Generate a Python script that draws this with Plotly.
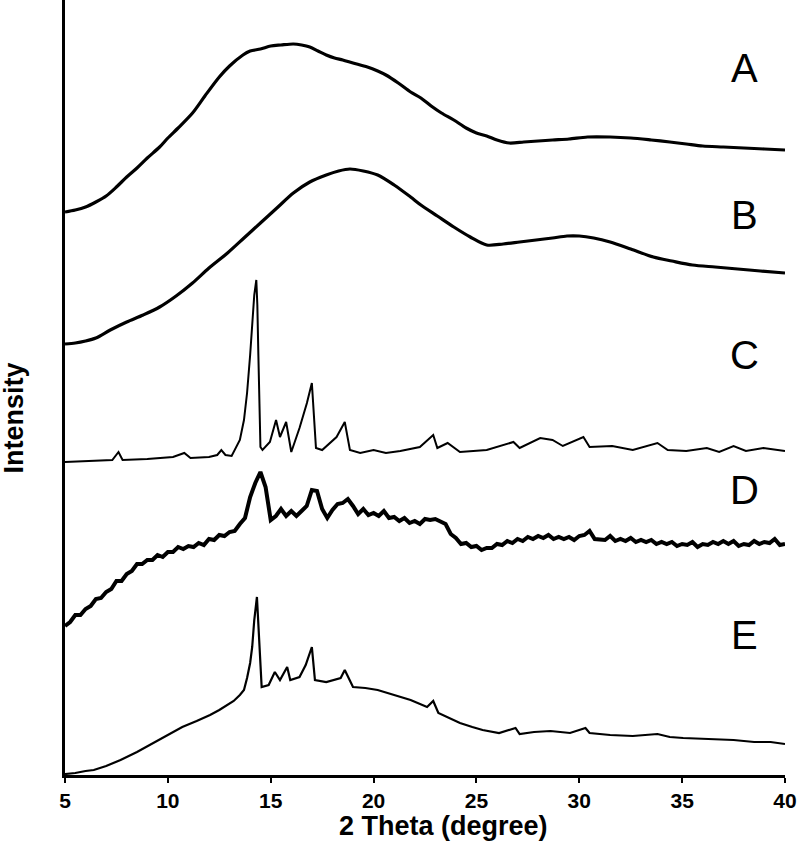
import plotly.graph_objects as go

# 2 theta (degree) and intensity (a.u., curves already stacked)
theta_a = [5.0, 5.5, 6.0, 6.5, 7.0, 7.5, 8.0, 8.5, 9.0, 9.6, 10.0, 10.5, 11.2, 11.8, 12.5, 13.0, 13.65, 14.0,
           14.5, 15.0, 15.5, 16.1, 16.5, 16.9, 17.3, 17.7, 18.1, 18.5, 19.0, 19.7, 20.2, 20.6, 21.2, 21.8,
           22.3, 22.8, 23.3, 23.9, 24.5, 25.0, 25.5, 26.0, 26.6, 27.3, 28.0, 28.7, 29.5, 30.4, 31.5, 32.5,
           33.5, 34.4, 35.2, 36.0, 37.0, 38.0, 39.0, 40.0]
int_a = [563, 565, 568, 573, 579, 588, 598, 607, 617, 628, 637, 647, 662, 679, 698, 709, 720, 724,
         726, 729, 730, 731, 730, 728, 724, 720, 717, 715, 712, 708, 704, 700, 692, 683,
         677, 669, 662, 655, 647, 642, 639, 635, 632, 633, 634, 635, 636, 638, 638, 637,
         635, 633, 631, 629, 628, 627, 626, 625]

theta_b = [5.0, 5.5, 6.0, 6.5, 7.2, 8.0, 8.8, 9.6, 10.4, 11.2, 12.0, 12.9, 13.7, 14.5, 15.3, 16.1, 16.9,
           17.7, 18.3, 18.85, 19.5, 20.2, 21.0, 21.8, 22.3, 23.1, 23.9, 24.7, 25.5, 26.3, 27.1, 27.9,
           28.7, 29.4, 30.0, 30.7, 31.5, 32.5, 33.6, 34.5, 35.5, 36.6, 37.7, 38.8, 40.0]
int_b = [431, 432, 434, 437, 445, 453, 460, 468, 479, 492, 507, 522, 537, 552, 567, 582, 593,
         600, 604, 606, 604, 600, 590, 578, 570, 559, 548, 538, 530, 531, 533, 535,
         537, 539, 539, 537, 533, 526, 518, 514, 510, 508, 506, 504, 502]

theta_c = [5.0, 6.0, 6.7, 7.3, 7.6, 7.8, 9.0, 10.25, 10.8, 11.1, 12.0, 12.4, 12.6, 12.8, 13.1, 13.5, 13.7,
           13.85, 14.0, 14.1, 14.2, 14.3, 14.35, 14.4, 14.45, 14.5, 14.6, 14.96, 15.26, 15.45, 15.75,
           16.0, 16.4, 16.76, 17.0, 17.2, 17.5, 18.2, 18.6, 18.85, 19.35, 20.0, 20.6, 21.3, 22.25, 22.9,
           23.1, 23.6, 24.2, 25.5, 26.8, 27.1, 28.1, 28.7, 29.2, 30.2, 30.5, 31.6, 32.6, 33.8, 34.3, 35.2,
           36.2, 36.8, 37.5, 38.1, 38.95, 40.0]
int_c = [313, 314, 315, 315, 323, 315, 316, 318, 322, 317, 318, 320, 325, 320, 319, 335, 355,
         382, 420, 448, 480, 495, 470, 420, 360, 328, 325, 333, 355, 338, 353,
         323, 347, 372, 392, 327, 325, 338, 353, 325, 322, 325, 322, 324, 328, 340,
         327, 332, 323, 325, 333, 327, 337, 335, 329, 338, 328, 329, 325, 332, 325, 324,
         327, 323, 329, 324, 327, 324]

theta_d = [5.0, 5.25, 5.5, 5.75, 6.0, 6.25, 6.5, 6.75, 7.0, 7.25, 7.5, 7.75, 8.0, 8.25, 8.5, 8.75,
           9.0, 9.25, 9.5, 9.75, 10.0, 10.25, 10.5, 10.75, 11.0, 11.25, 11.5, 11.75, 12.0, 12.25, 12.5,
           12.75, 13.0, 13.25, 13.5, 13.75, 14.0, 14.25, 14.5, 14.75, 15.0, 15.25, 15.5, 15.75, 16.0,
           16.25, 16.5, 16.75, 17.0, 17.25, 17.5, 17.75, 18.0, 18.25, 18.5, 18.75, 19.0, 19.25, 19.5,
           19.75, 20.0, 20.25, 20.5, 20.75, 21.0, 21.25, 21.5, 21.75, 22.0, 22.25, 22.5, 22.75, 23.0,
           23.25, 23.5, 23.75, 24.0, 24.25, 24.5, 24.75, 25.0, 25.25, 25.5, 25.75, 26.0, 26.25, 26.5,
           26.75, 27.0, 27.25, 27.5, 27.75, 28.0, 28.25, 28.5, 28.75, 29.0, 29.25, 29.5, 29.75, 30.0,
           30.25, 30.5, 30.75, 31.0, 31.25, 31.5, 31.75, 32.0, 32.25, 32.5, 32.75, 33.0, 33.25, 33.5,
           33.75, 34.0, 34.25, 34.5, 34.75, 35.0, 35.25, 35.5, 35.75, 36.0, 36.25, 36.5, 36.75, 37.0,
           37.25, 37.5, 37.75, 38.0, 38.25, 38.5, 38.75, 39.0, 39.25, 39.5, 39.75, 40.0]
int_d = [149, 153, 160, 160, 166, 169, 176, 177, 183, 186, 194, 194, 201, 204, 211, 211,
         215, 215, 220, 218, 223, 223, 228, 226, 229, 228, 232, 230, 236, 235, 240,
         239, 243, 244, 251, 257, 278, 292, 303, 288, 255, 259, 266, 259, 264,
         259, 264, 269, 285, 284, 266, 257, 265, 271, 272, 276, 269, 261, 266,
         260, 262, 259, 264, 257, 258, 254, 257, 252, 254, 251, 256, 255, 256,
         253, 251, 241, 237, 231, 232, 228, 229, 225, 227, 227, 231, 230, 234,
         232, 236, 234, 238, 236, 239, 237, 240, 236, 238, 236, 238, 235, 239,
         240, 244, 236, 236, 235, 239, 234, 236, 234, 237, 233, 235, 233, 235,
         231, 233, 231, 233, 229, 231, 230, 233, 228, 231, 230, 233, 231, 234,
         231, 234, 229, 231, 230, 234, 231, 233, 232, 236, 230, 231]

theta_e = [5.0, 5.5, 6.0, 6.4, 7.0, 7.5, 7.7, 8.5, 9.3, 10.0, 10.7, 11.4, 12.05, 12.5, 12.9, 13.2, 13.5,
           13.7, 13.85, 14.0, 14.1, 14.2, 14.33, 14.4, 14.5, 14.56, 14.9, 15.2, 15.45, 15.8, 15.95, 16.4,
           16.7, 17.0, 17.15, 17.7, 18.4, 18.6, 19.0, 19.6, 20.2, 21.0, 21.8, 22.6, 22.9, 23.15, 23.6,
           24.2, 24.8, 25.3, 26.1, 26.9, 27.1, 27.8, 28.6, 29.55, 30.3, 30.5, 31.5, 32.6, 33.8, 34.4,
           35.05, 36.0, 37.5, 38.5, 39.3, 40.0]
int_e = [1, 2, 4, 5, 9, 13, 15, 23, 32, 40, 48, 54, 60, 65, 70, 74, 80,
         85, 97, 112, 128, 155, 178, 150, 110, 88, 90, 103, 95, 108, 95, 98,
         110, 128, 95, 93, 97, 105, 88, 87, 85, 80, 75, 68, 74, 62, 58,
         52, 48, 45, 42, 47, 41, 43, 44, 42, 47, 42, 40, 39, 41, 38,
         37, 36, 35, 33, 33, 31]

sample_labels = ["A", "B", "C", "D", "E"]

font_family = "Liberation Sans, Arial, sans-serif"

series = [
    (theta_a, int_a, 3.2, "spline"),
    (theta_b, int_b, 3.2, "spline"),
    (theta_c, int_c, 2.0, "linear"),
    (theta_d, int_d, 4.0, "linear"),
    (theta_e, int_e, 2.2, "linear"),
]

fig = go.Figure()
for (tx, iy, w, shape), name in zip(series, sample_labels):
    fig.add_trace(go.Scatter(x=tx, y=iy, mode="lines", name=name,
                             line=dict(color="black", width=w, shape=shape, smoothing=0.8)))

# sample letters on the right
label_y = [707, 560, 420, 285, 140]
for name, ly in zip(sample_labels, label_y):
    fig.add_annotation(x=38.05, y=ly, text=name, showarrow=False,
                       font=dict(family=font_family, size=40, color="black"))

# axis titles placed by hand (the original is slightly off-centre)
fig.add_annotation(x=0.526, y=-0.066, xref="paper", yref="paper", text="2 Theta (degree)",
                   showarrow=False, yanchor="middle",
                   font=dict(family=font_family, size=27, color="black", weight="bold"))
fig.add_annotation(x=-0.071, y=0.461, xref="paper", yref="paper", text="Intensity",
                   showarrow=False, textangle=-90, xanchor="center", yanchor="middle",
                   font=dict(family=font_family, size=27, color="black", weight="bold"))

fig.update_layout(
    width=800, height=843,
    margin=dict(l=65, r=15, t=0, b=68),
    plot_bgcolor="white", paper_bgcolor="white",
    showlegend=False,
    font=dict(family=font_family, color="black"),
)
fig.update_xaxes(
    range=[5, 40], tickvals=[5, 10, 15, 20, 25, 30, 35, 40],
    showline=True, linecolor="black", linewidth=3,
    ticks="outside", ticklen=5, tickwidth=2, tickcolor="black",
    showgrid=False, zeroline=False, automargin=False,
    tickfont=dict(size=21, weight="bold"),
)
fig.update_yaxes(
    range=[0, 775], showticklabels=False, ticks="",
    showline=True, linecolor="black", linewidth=3,
    showgrid=False, zeroline=False, automargin=False,
)

fig.write_html("out.html", config={"displayModeBar": False},
               post_script="document.body.style.margin='0';")
